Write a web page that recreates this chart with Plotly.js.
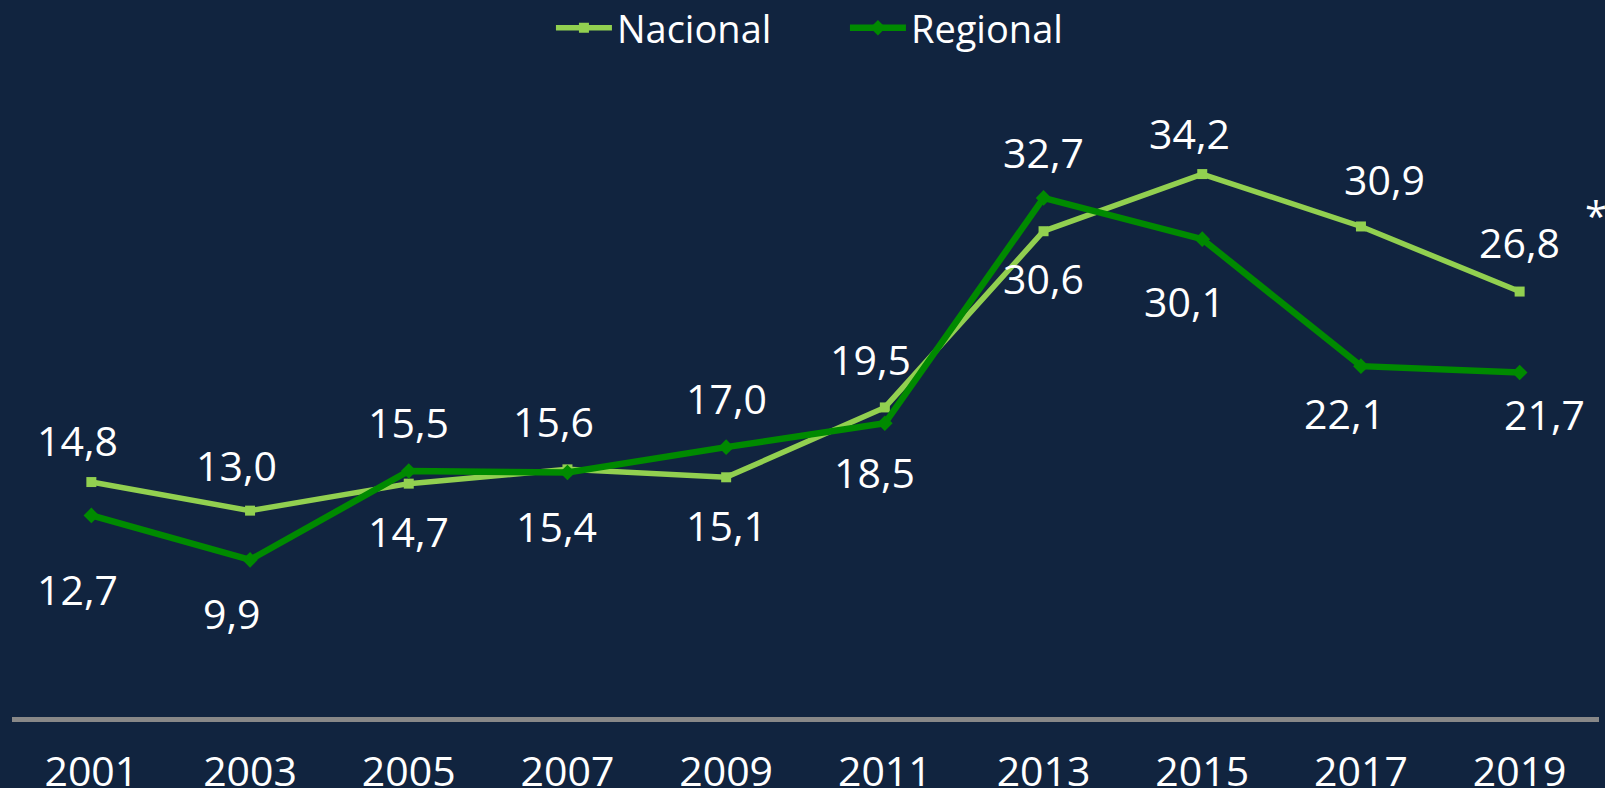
<!DOCTYPE html>
<html>
<head>
<meta charset="utf-8">
<script src="https://cdn.plot.ly/plotly-3.0.1.min.js"></script>
<style>
html,body{margin:0;padding:0;background:#11243f;}
#chart{width:1605px;height:788px;}
</style>
</head>
<body>
<div id="chart"></div>
<script>
var years = ["2001","2003","2005","2007","2009","2011","2013","2015","2017","2019"];
var nacional = [14.8, 13.0, 14.7, 15.6, 15.1, 19.5, 30.6, 34.2, 30.9, 26.8];
var regional = [12.7, 9.9, 15.5, 15.4, 17.0, 18.5, 32.7, 30.1, 22.1, 21.7];

// label offsets in pixels (positive = above the point)
var nacionalDy = [42, 46, -47, 48, -48, 48, -47, 41, 47, 50];
var regionalDy = [-74, -53, 49, -53, 49, -49, 46, -62, -47, -41];
var nacionalDx = [-14, -14, 0, -14, 0, -14, 0, -13, 24, 0];
var regionalDx = [-14, -18, 0, -11, 0, -10, 0, -18, -16, 25];

function fmt(v){ return v.toFixed(1).replace('.', ','); }

var annotations = [];
function addLabels(vals, dy, dx){
  for (var i = 0; i < years.length; i++){
    annotations.push({
      x: i, y: vals[i], xref: 'x', yref: 'y',
      text: fmt(vals[i]), showarrow: false,
      xanchor: 'center', yanchor: 'middle',
      yshift: dy[i], xshift: dx[i],
      font: {family: 'Open Sans, sans-serif', size: 41, color: '#ffffff'}
    });
  }
}
addLabels(nacional, nacionalDy, nacionalDx);
addLabels(regional, regionalDy, regionalDx);
annotations.push({
  x: 0.998, y: 0.79, xref: 'paper', yref: 'paper', text: '*', showarrow: false,
  xanchor: 'center', yanchor: 'middle',
  font: {family: 'Open Sans, sans-serif', size: 40, color: '#ffffff'}
});

var traces = [
  {
    x: years, y: nacional, name: 'Nacional', type: 'scatter', mode: 'lines+markers',
    line: {color: '#92d050', width: 5.5},
    marker: {symbol: 'square', size: 10, color: '#92d050'}
  },
  {
    x: years, y: regional, name: 'Regional', type: 'scatter', mode: 'lines+markers',
    line: {color: '#008a00', width: 6.5},
    marker: {symbol: 'diamond', size: 12, color: '#008a00'}
  }
];

var layout = {
  width: 1605, height: 788,
  paper_bgcolor: '#11243f', plot_bgcolor: '#11243f',
  margin: {l: 12, r: 6, t: 82, b: 71, autoexpand: false},
  showlegend: true,
  legend: {
    orientation: 'h', x: 0.3396, xanchor: 'left', y: 1.085, yanchor: 'middle',
    font: {family: 'Open Sans, sans-serif', size: 38, color: '#ffffff'},
    itemwidth: 56, entrywidth: 223, bgcolor: 'rgba(0,0,0,0)'
  },
  xaxis: {
    type: 'category', range: [-0.5, 9.5], fixedrange: true,
    showline: true, linecolor: '#888888', linewidth: 5,
    showgrid: false, zeroline: false, ticks: '',
    tickfont: {family: 'Open Sans, sans-serif', size: 41, color: '#ffffff'},
    ticklabelstandoff: 15
  },
  yaxis: {
    range: [0, 40], showticklabels: false, showline: false, ticks: '',
    showgrid: false, zeroline: false, fixedrange: true
  },
  annotations: annotations
};

Plotly.newPlot('chart', traces, layout, {displayModeBar: false, staticPlot: true});
</script>
</body>
</html>
